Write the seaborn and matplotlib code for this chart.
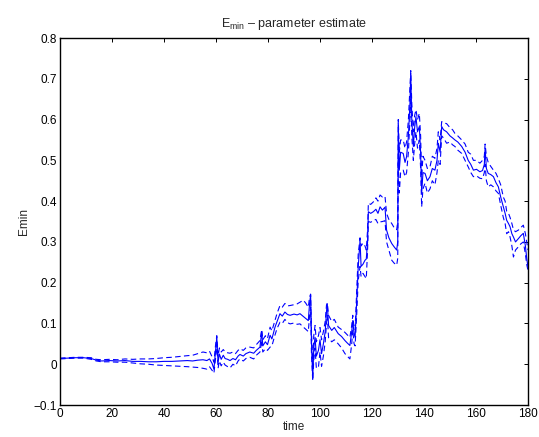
import matplotlib
matplotlib.use("Agg")
import matplotlib.pyplot as plt
import seaborn as sns
import pandas as pd

time = [0, 3, 6, 9, 12, 14, 16, 19, 22, 25, 28, 31, 34, 37, 40, 43, 46, 49, 51, 53, 55,
        56.5, 57.5, 58.5, 59.2, 59.8, 60.3, 60.8, 61.3, 62, 62.8, 63.5, 64.5, 65.4, 66.5,
        67.5, 68.5, 69.2, 70.5, 71.5, 73, 74.5, 75.5, 76.9, 77.3, 77.6, 78, 79, 79.8, 80.8,
        81.5, 82.7, 83.5, 84.6, 85.5, 86.5, 87.5, 88.5, 90, 91.2, 92.3, 93.6, 94.5, 95.5,
        96, 96.4, 96.7, 97.2, 97.6, 98.1, 98.6, 99.4, 100, 100.6, 101.3, 102, 102.5, 102.8,
        103.3, 104.5, 105.5, 107, 108.3, 109.6, 110.5, 111.5, 112.2, 112.6, 113.1, 113.5,
        114.1, 114.7, 115.4, 115.8, 116.5, 117.3, 117.8, 118.3, 118.6, 119.5, 120.5, 121.5,
        122.3, 123.1, 124, 125, 125.6, 126.5, 127.6, 128.5, 129.5, 129.9, 130.1, 130.5, 131,
        132, 132.7, 133.3, 134, 134.6, 134.9, 135.3, 135.9, 136.4, 136.9, 137.5, 138.2,
        138.7, 139.1, 139.6, 140.4, 141.3, 142.3, 143.2, 144.2, 145, 145.5, 146.2, 146.8,
        147.5, 148.7, 150, 151, 151.9, 153, 154.5, 155.8, 157, 158, 159, 160.2, 161.5, 162.5,
        163.2, 163.5, 164, 164.7, 165.7, 166.7, 167.7, 168.6, 169.5, 170.5, 171.2, 171.8,
        172.5, 173.1, 173.8, 174.4, 175.2, 176.3, 177.2, 178.2, 179, 179.5, 180]

emin = [0.014, 0.015, 0.016, 0.016, 0.014, 0.010, 0.008, 0.009, 0.008, 0.009, 0.007, 0.007,
        0.006, 0.006, 0.007, 0.007, 0.008, 0.009, 0.008, 0.010, 0.011,
        0.009, 0.013, 0.002, -0.012, 0.030, 0.066, 0.005, 0.025, 0.012, 0.022, 0.014, 0.012,
        0.009, 0.014, 0.011, 0.020, 0.024, 0.020, 0.026, 0.030, 0.027, 0.034, 0.042, 0.062,
        0.079, 0.045, 0.055, 0.048, 0.071, 0.062, 0.091, 0.105, 0.124, 0.118, 0.128, 0.122,
        0.120, 0.123, 0.121, 0.124, 0.117, 0.112, 0.107, 0.150, 0.169, 0.060, -0.036, 0.040,
        0.066, 0.020, 0.034, 0.060, 0.026, 0.050, 0.080, 0.130, 0.148, 0.095, 0.083, 0.090,
        0.075, 0.068, 0.058, 0.052, 0.046, 0.080, 0.107, 0.075, 0.066, 0.150, 0.238, 0.304,
        0.240, 0.245, 0.255, 0.258, 0.300, 0.374, 0.370, 0.374, 0.380, 0.370, 0.386, 0.378,
        0.385, 0.329, 0.310, 0.296, 0.288, 0.280, 0.300, 0.591, 0.476, 0.520, 0.517, 0.495,
        0.509, 0.560, 0.640, 0.714, 0.600, 0.534, 0.580, 0.607, 0.570, 0.583, 0.520, 0.419,
        0.470, 0.468, 0.450, 0.460, 0.480, 0.476, 0.500, 0.542, 0.520, 0.583, 0.575, 0.570,
        0.560, 0.555, 0.550, 0.545, 0.534, 0.520, 0.500, 0.490, 0.476, 0.478, 0.472, 0.475,
        0.490, 0.530, 0.480, 0.468, 0.465, 0.460, 0.445, 0.435, 0.410, 0.386, 0.370, 0.353,
        0.345, 0.337, 0.320, 0.312, 0.300, 0.308, 0.315, 0.321, 0.290, 0.260, 0.238]

upper = [0.015, 0.016, 0.017, 0.017, 0.016, 0.012, 0.011, 0.012, 0.011, 0.013, 0.012, 0.013,
         0.013, 0.014, 0.016, 0.017, 0.019, 0.021, 0.022, 0.026, 0.030,
         0.028, 0.032, 0.018, 0.005, 0.045, 0.070, 0.020, 0.040, 0.030, 0.036, 0.030, 0.028,
         0.027, 0.030, 0.026, 0.034, 0.038, 0.034, 0.040, 0.042, 0.040, 0.048, 0.058, 0.075,
         0.085, 0.060, 0.070, 0.063, 0.091, 0.082, 0.108, 0.125, 0.144, 0.140, 0.149, 0.143,
         0.144, 0.146, 0.148, 0.152, 0.157, 0.150, 0.140, 0.165, 0.172, 0.085, 0.000, 0.070,
         0.095, 0.055, 0.070, 0.090, 0.060, 0.080, 0.105, 0.145, 0.150, 0.120, 0.105, 0.110,
         0.091, 0.085, 0.078, 0.072, 0.066, 0.095, 0.120, 0.090, 0.085, 0.180, 0.270, 0.310,
         0.290, 0.297, 0.290, 0.280, 0.330, 0.395, 0.392, 0.398, 0.408, 0.400, 0.415, 0.410,
         0.412, 0.370, 0.355, 0.345, 0.335, 0.330, 0.350, 0.600, 0.520, 0.550, 0.550, 0.530,
         0.545, 0.600, 0.680, 0.720, 0.640, 0.570, 0.610, 0.624, 0.600, 0.615, 0.560, 0.460,
         0.510, 0.500, 0.480, 0.484, 0.510, 0.505, 0.530, 0.570, 0.550, 0.595, 0.592, 0.590,
         0.580, 0.575, 0.566, 0.560, 0.550, 0.540, 0.520, 0.515, 0.500, 0.500, 0.493, 0.500,
         0.510, 0.540, 0.510, 0.495, 0.485, 0.476, 0.468, 0.455, 0.440, 0.410, 0.400, 0.375,
         0.370, 0.360, 0.345, 0.330, 0.325, 0.329, 0.335, 0.341, 0.320, 0.300, 0.280]

lower = [0.013, 0.014, 0.015, 0.015, 0.012, 0.008, 0.006, 0.006, 0.005, 0.005, 0.003, 0.001,
         0.000, -0.002, -0.003, -0.004, -0.005, -0.006, -0.007, -0.008, -0.010,
         -0.012, -0.006, -0.015, -0.022, 0.012, 0.050, -0.010, 0.008, -0.004, 0.005, -0.002,
         -0.006, -0.009, 0.000, -0.004, 0.008, 0.013, 0.008, 0.014, 0.017, 0.013, 0.022,
         0.030, 0.045, 0.060, 0.030, 0.038, 0.034, 0.042, 0.045, 0.072, 0.088, 0.103, 0.100,
         0.110, 0.102, 0.099, 0.101, 0.098, 0.099, 0.091, 0.086, 0.080, 0.120, 0.140, 0.030,
         -0.040, 0.010, 0.040, -0.010, -0.007, 0.030, -0.005, 0.020, 0.055, 0.100, 0.120,
         0.065, 0.055, 0.060, 0.050, 0.040, 0.026, 0.020, 0.013, 0.050, 0.085, 0.050, 0.045,
         0.120, 0.205, 0.240, 0.215, 0.223, 0.215, 0.210, 0.280, 0.350, 0.348, 0.353, 0.355,
         0.345, 0.349, 0.350, 0.352, 0.300, 0.280, 0.255, 0.248, 0.243, 0.260, 0.500, 0.420,
         0.470, 0.476, 0.460, 0.470, 0.520, 0.600, 0.650, 0.560, 0.500, 0.540, 0.570, 0.530,
         0.550, 0.480, 0.386, 0.430, 0.444, 0.420, 0.430, 0.450, 0.440, 0.470, 0.500, 0.490,
         0.560, 0.555, 0.542, 0.545, 0.538, 0.534, 0.525, 0.517, 0.500, 0.484, 0.470, 0.460,
         0.462, 0.456, 0.455, 0.470, 0.490, 0.450, 0.435, 0.440, 0.435, 0.425, 0.419, 0.390,
         0.360, 0.345, 0.320, 0.325, 0.312, 0.290, 0.263, 0.280, 0.288, 0.295, 0.300, 0.270,
         0.245, 0.230]

df = pd.DataFrame({"time": time, "emin": emin, "upper": upper, "lower": lower})

sns.set_style("white")
plt.rcParams["font.family"] = ["Liberation Sans", "DejaVu Sans"]
plt.rcParams["mathtext.fontset"] = "custom"
plt.rcParams["mathtext.rm"] = "Liberation Sans"
plt.rcParams["mathtext.it"] = "Liberation Sans"
plt.rcParams["mathtext.default"] = "regular"

fig = plt.figure(figsize=(5.39, 4.37), dpi=100)
ax = fig.add_axes([0.1113, 0.0732, 0.8683, 0.8398])

blue = (0, 0, 1)
sns.lineplot(data=df, x="time", y="emin", ax=ax, color=blue, lw=0.8, estimator=None)
sns.lineplot(data=df, x="time", y="upper", ax=ax, color=blue, lw=0.8, estimator=None,
             linestyle=(0, (5, 3)))
sns.lineplot(data=df, x="time", y="lower", ax=ax, color=blue, lw=0.8, estimator=None,
             linestyle=(0, (5, 3)))

ax.set_xlim(0, 180)
ax.set_ylim(-0.1, 0.8)
ax.set_xticks(range(0, 181, 20))
ax.set_yticks([-0.1, 0, 0.1, 0.2, 0.3, 0.4, 0.5, 0.6, 0.7, 0.8])
ax.set_yticklabels(["\u22120.1", "0", "0.1", "0.2", "0.3", "0.4", "0.5", "0.6", "0.7", "0.8"])
ax.tick_params(direction="in", length=3, width=0.7, top=True, right=True,
               labelsize=8.5, colors="black", pad=2)
for s in ax.spines.values():
    s.set_visible(True)
    s.set_color("black")
    s.set_linewidth(1.0)

ax.set_xlabel("time", fontsize=8.5, labelpad=1)
ax.set_ylabel("Emin", fontsize=8.5, labelpad=3)
ax.set_title("E$_{min}$ \u2013 parameter estimate", fontsize=9, pad=8)

fig.savefig("out.png", dpi=100)
